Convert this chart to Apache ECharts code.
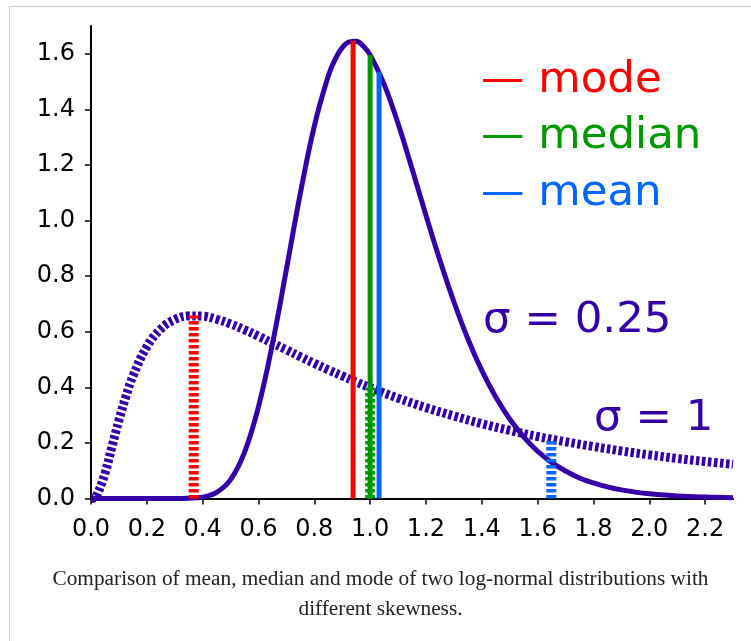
<!DOCTYPE html>
<html>
<head>
<meta charset="utf-8">
<script src="https://cdn.jsdelivr.net/npm/echarts@6/dist/echarts.min.js"></script>
<style>
  html, body { margin: 0; padding: 0; background: #ffffff; }
  #chart { width: 751px; height: 641px; }
</style>
</head>
<body>
<div id="chart"></div>
<script>
// ---- data ----
// sigma = 0.25 curve (solid)
const xSigma025 = [0, 0.1, 0.2, 0.3, 0.35, 0.4, 0.45, 0.5, 0.55, 0.6, 0.65, 0.7, 0.75, 0.8, 0.85, 0.875, 0.9, 0.925, 0.95, 0.975, 1.0,
  1.05, 1.1, 1.15, 1.2, 1.25, 1.3, 1.35, 1.4, 1.45, 1.5, 1.55, 1.6, 1.65, 1.7, 1.75, 1.8, 1.85, 1.9, 1.95, 2.0,
  2.1, 2.2, 2.3];
const ySigma025 = [0, 0, 0, 0, 0.001, 0.005, 0.022, 0.068, 0.166, 0.330, 0.556, 0.824, 1.098, 1.340, 1.520, 1.581, 1.622, 1.643, 1.645, 1.628, 1.596,
  1.491, 1.349, 1.187, 1.019, 0.857, 0.708, 0.575, 0.461, 0.365, 0.286, 0.222, 0.170, 0.130, 0.099, 0.074, 0.056, 0.042, 0.031, 0.023, 0.017,
  0.009, 0.005, 0.003];
// sigma = 1 curve (dotted)
const xSigma1 = [0, 0.01, 0.02, 0.05, 0.075, 0.1, 0.125, 0.15, 0.2, 0.25, 0.3, 0.35, 0.4, 0.45, 0.5, 0.55, 0.6, 0.65, 0.7, 0.75, 0.8, 0.85, 0.9, 0.95, 1.0,
  1.1, 1.2, 1.3, 1.4, 1.5, 1.6, 1.7, 1.8, 1.9, 2.0, 2.1, 2.2, 2.3];
const ySigma1 = [0, 0.001, 0.0095, 0.090, 0.186, 0.2815, 0.367, 0.440, 0.546, 0.610, 0.644, 0.657, 0.656, 0.645, 0.628, 0.607, 0.584, 0.559, 0.535, 0.510, 0.486, 0.463, 0.441, 0.419, 0.399,
  0.361, 0.327, 0.297, 0.269, 0.245, 0.223, 0.204, 0.187, 0.171, 0.157, 0.144, 0.133, 0.123];
// statistics: mode, median, mean
const statNames = ['mode', 'median', 'mean'];
const statXSigma025 = [0.939, 1.0, 1.032];
const statYSigma025 = [1.647, 1.596, 1.535];
const statXSigma1 = [0.368, 1.0, 1.649];
const statYSigma1 = [0.658, 0.399, 0.214];
// labels
const sigmaLabels = ['σ = 0.25', 'σ = 1'];
const xTicks = [0, 0.2, 0.4, 0.6, 0.8, 1.0, 1.2, 1.4, 1.6, 1.8, 2.0, 2.2];
const yTicks = [0, 0.2, 0.4, 0.6, 0.8, 1.0, 1.2, 1.4, 1.6];
const captionLines = ['Comparison of mean, median and mode of two log-normal distributions with', 'different skewness.'];

// ---- styles ----
const indigo = '#3300aa';
const statColors = ['#ff0000', '#009900', '#0066ff'];
const font = 'DejaVu Sans';

const zip = (xs, ys) => xs.map((x, i) => [x, ys[i]]);

const series = [];
series.push({
  type: 'line', data: zip(xSigma1, ySigma1), showSymbol: false, smooth: 0.4, clip: false, z: 2,
  lineStyle: { color: indigo, width: 9, type: [3.5, 2.5], cap: 'butt' }
});
series.push({
  type: 'line', data: zip(xSigma025, ySigma025), showSymbol: false, smooth: 0.4, clip: false, z: 3,
  lineStyle: { color: indigo, width: 5 }
});
statNames.forEach((n, i) => {
  series.push({
    type: 'line', name: n + ' σ=0.25', data: [[statXSigma025[i], 0], [statXSigma025[i], statYSigma025[i]]],
    showSymbol: false, clip: false, z: 4,
    lineStyle: { color: statColors[i], width: 5 }
  });
});
statNames.forEach((n, i) => {
  series.push({
    type: 'line', name: n + ' σ=1', data: [[statXSigma1[i], 0], [statXSigma1[i], statYSigma1[i]]],
    showSymbol: false, clip: false, z: 5,
    lineStyle: { color: statColors[i], width: 10, type: [3.5, 2.5], cap: 'butt' }
  });
});

const graphics = [
  { type: 'line', shape: { x1: 9.5, y1: 6.5, x2: 751, y2: 6.5 }, style: { stroke: '#c8ccd1', lineWidth: 1 } },
  { type: 'line', shape: { x1: 9.5, y1: 6.5, x2: 9.5, y2: 641 }, style: { stroke: '#c8ccd1', lineWidth: 1 } }
];
const legendCenters = [81, 136.5, 193.5];
statNames.forEach((n, i) => {
  graphics.push({
    type: 'text', x: 481, y: legendCenters[i], z: 10,
    style: { text: '— ' + n, fill: statColors[i], font: '43.5px "' + font + '"', verticalAlign: 'middle', align: 'left' }
  });
});
graphics.push({ type: 'text', x: 483, y: 321, z: 10,
  style: { text: sigmaLabels[0], fill: indigo, font: '43.5px "' + font + '"', verticalAlign: 'middle', align: 'left' } });
graphics.push({ type: 'text', x: 594, y: 419, z: 10,
  style: { text: sigmaLabels[1], fill: indigo, font: '43.5px "' + font + '"', verticalAlign: 'middle', align: 'left' } });
const captionCenters = [579, 609];
captionLines.forEach((t, i) => {
  graphics.push({ type: 'text', x: 380.5, y: captionCenters[i], z: 10,
    style: { text: t, fill: '#202122', font: '21.3px "Liberation Serif"', verticalAlign: 'middle', align: 'center' } });
});

const chart = echarts.init(document.getElementById('chart'), null, { renderer: 'canvas' });
chart.setOption({
  animation: false,
  backgroundColor: '#ffffff',
  grid: { left: 91, right: 18, top: 26, bottom: 142.5 },
  xAxis: {
    type: 'value', min: 0, max: 2.3,
    axisLine: { lineStyle: { color: '#000', width: 2 } },
    axisTick: { customValues: xTicks, length: 6, lineStyle: { color: '#000', width: 1.5 } },
    axisLabel: { customValues: xTicks, formatter: v => v.toFixed(1), fontFamily: font, fontSize: 24, color: '#000', margin: 19 },
    splitLine: { show: false }
  },
  yAxis: {
    type: 'value', min: 0, max: 1.7,
    axisLine: { show: true, lineStyle: { color: '#000', width: 2 } },
    axisTick: { show: true, customValues: yTicks, length: 6, lineStyle: { color: '#000', width: 1.5 } },
    axisLabel: { customValues: yTicks, formatter: v => v.toFixed(1), fontFamily: font, fontSize: 24, color: '#000', margin: 16 },
    splitLine: { show: false }
  },
  series: series,
  graphic: graphics
});
</script>
</body>
</html>
